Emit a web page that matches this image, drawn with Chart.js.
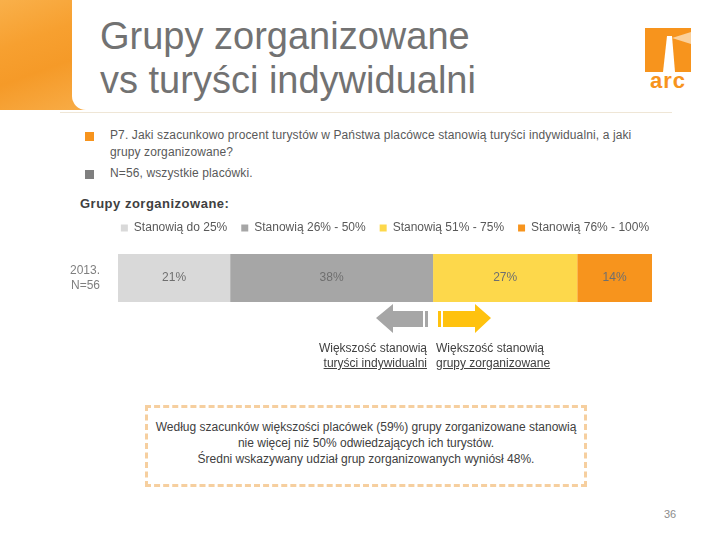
<!DOCTYPE html>
<html>
<head>
<meta charset="utf-8">
<script src="https://cdn.jsdelivr.net/npm/chart.js@4"></script>
<style>
body{margin:0;width:720px;height:540px;position:relative;background:#fff;font-family:"Liberation Sans",Arial,sans-serif;color:#595959;overflow:hidden}
.abs{position:absolute}
#side{left:0;top:0;width:90px;height:110px;background:linear-gradient(160deg,#f9b04a 0%,#f7a030 35%,#f59a28 60%,#f8ad48 100%)}
#card{left:72px;top:0;width:648px;height:110px;background:#fff;border-bottom-left-radius:14px}
#rule{left:60px;top:112px;width:612px;height:1px;background:#efe6d6}
#title{left:100px;top:14px;font-size:38px;line-height:44px;color:#727272}
#logo{left:645px;top:28px;width:46px;height:44px;background:#f7941d}
#arc{left:644px;top:68px;width:48px;font-size:22px;font-weight:bold;color:#f7941d;letter-spacing:1px;text-align:center}
.sq{width:9px;height:9px}
.txt{font-size:12px;line-height:17px}
#box{left:145px;top:405px;width:436px;height:76px;border:3px dashed #f6cf9f;text-align:center;font-size:12px;line-height:16px;color:#404040}
.u{text-decoration:underline}
</style>
</head>
<body>
<div id="side" class="abs"></div>
<div id="card" class="abs"></div>
<div id="rule" class="abs"></div>
<div id="title" class="abs">Grupy zorganizowane<br>vs turyści indywidualni</div>
<div id="logo" class="abs"><svg width="46" height="44"><polygon points="22,8 27,8 30,44 18,44" fill="#fff"/><polygon points="27,10 46,4 46,16" fill="#fbd09a"/></svg></div>
<div id="arc" class="abs">arc</div>

<div class="abs sq" style="left:85px;top:132px;background:#f7941d"></div>
<div class="abs txt" style="left:110px;top:127px;letter-spacing:0.12px">P7. Jaki szacunkowo procent turystów w Państwa placówce stanowią turyści indywidualni, a jaki<br>grupy zorganizowane?</div>
<div class="abs sq" style="left:85px;top:170px;background:#7f7f7f"></div>
<div class="abs txt" style="left:110px;top:165px;letter-spacing:0.12px">N=56, wszystkie placówki.</div>
<div class="abs" style="left:80px;top:196px;font-size:13px;font-weight:bold;color:#404040;letter-spacing:0.5px">Grupy zorganizowane:</div>

<canvas id="chart" class="abs" style="left:70px;top:208px" width="630" height="104"></canvas>

<svg class="abs" style="left:370px;top:300px" width="130" height="40">
<polygon points="6,18 23,4 23,11 53,11 53,27 23,27 23,33" fill="#a6a6a6"/>
<rect x="55" y="11" width="3" height="16" fill="#a6a6a6"/>
<rect x="68" y="11" width="3" height="16" fill="#ffc20e"/>
<polygon points="73,11 105,11 105,4 121,18 105,33 105,27 73,27" fill="#ffc20e"/>
</svg>
<div class="abs txt" style="left:300px;top:341px;width:127px;text-align:right;line-height:15px;color:#404040">Większość stanowią<br><span class="u">turyści indywidualni</span></div>
<div class="abs txt" style="left:436px;top:341px;width:150px;line-height:15px;color:#404040">Większość stanowią<br><span class="u">grupy zorganizowane</span></div>

<div id="box" class="abs"><div style="padding-top:11px">Według szacunków większości placówek (59%) grupy zorganizowane stanowią<br>nie więcej niż 50% odwiedzających ich turystów.<br>Średni wskazywany udział grup zorganizowanych wyniósł 48%.</div></div>
<div class="abs" style="left:664px;top:508px;font-size:11px;color:#8c8c8c">36</div>

<script>
// kategorie i wartości
const years = [["2013.", "N=56"]];
const seriesNames = ["Stanowią do 25%", "Stanowią 26% - 50%", "Stanowią 51% - 75%", "Stanowią 76% - 100%"];
const do25 = [21];
const od26do50 = [38];
const od51do75 = [27];
const od76do100 = [14];
const colors = ["#d9d9d9", "#a6a6a6", "#fdd84b", "#f7941d"];

const allValues = [do25, od26do50, od51do75, od76do100];

// etykiety z wartosciami na slupkach
const valueLabels = {
    id: "valueLabels",
    afterDatasetsDraw(chart) {
        const ctx = chart.ctx;
        ctx.save();
        ctx.font = "12px 'Liberation Sans', Arial, sans-serif";
        ctx.fillStyle = "#6f6f6f";
        ctx.textAlign = "center";
        ctx.textBaseline = "middle";
        chart.data.datasets.forEach((ds, i) => {
            chart.getDatasetMeta(i).data.forEach((bar, j) => {
                ctx.fillText(ds.data[j] + "%", (bar.x + bar.base) / 2, bar.y);
            });
        });
        ctx.restore();
    }
};

// stala szerokosc osi i bez dodatkowego marginesu od etykiet
function fixAxis(s) {
    s.width = 48;
    s.paddingTop = 0;
    s.paddingBottom = 0;
}

function renderChart() {
    const ctx = document.querySelector("#chart").getContext("2d");
    new Chart(ctx, {
        type: "bar",
        data: {
            labels: years,
            datasets: seriesNames.map((name, i) => ({
                label: name,
                data: allValues[i],
                backgroundColor: colors[i],
                categoryPercentage: 1,
                barPercentage: 0.706
            }))
        },
        options: {
            indexAxis: "y",
            responsive: false,
            animation: false,
            plugins: {
                legend: {
                    position: "top",
                    labels: {
                        boxWidth: 7,
                        boxHeight: 7,
                        padding: 14,
                        color: "#595959",
                        font: { size: 12, family: "'Liberation Sans', Arial, sans-serif" }
                    }
                },
                tooltip: { enabled: false }
            },
            scales: {
                x: { stacked: true, min: 0, max: 100, display: false },
                y: {
                    stacked: true,
                    grid: { display: false },
                    border: { display: false },
                    ticks: { color: "#7f7f7f", padding: 10, font: { size: 12, family: "'Liberation Sans', Arial, sans-serif" } },
                    afterFit: fixAxis
                },
                // pusta os po prawej, zeby legenda byla nad srodkiem slupka
                yr: {
                    type: "category",
                    position: "right",
                    labels: years,
                    grid: { display: false },
                    border: { display: false },
                    ticks: { display: false },
                    afterFit: fixAxis
                }
            }
        },
        plugins: [valueLabels]
    });
}
renderChart();
</script>
</body>
</html>
